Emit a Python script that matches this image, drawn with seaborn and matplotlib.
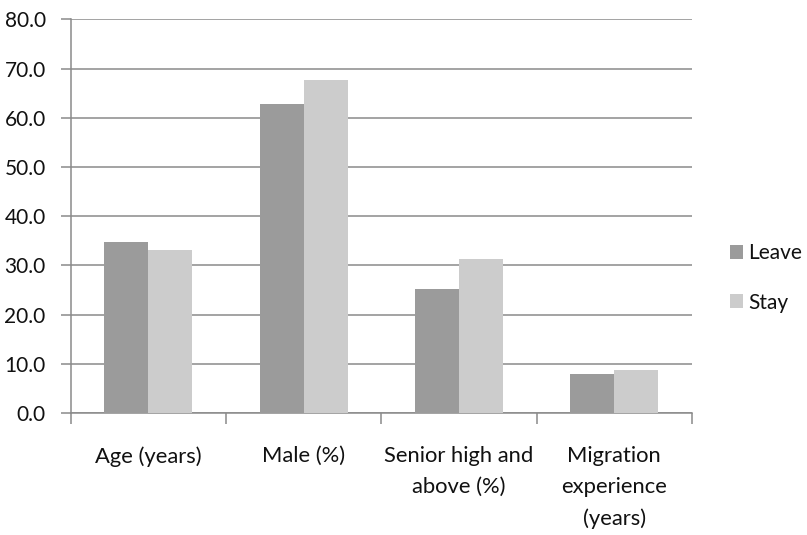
import matplotlib
matplotlib.use("Agg")
import matplotlib.pyplot as plt
from matplotlib.ticker import FixedLocator, FuncFormatter
import seaborn as sns
import pandas as pd

categories = ["Age (years)", "Male (%)", "Senior high and\nabove (%)",
              "Migration\nexperience\n(years)"]
leave = [34.8, 62.8, 25.2, 8.0]
stay = [33.2, 67.7, 31.4, 8.8]
groups = ["Leave", "Stay"]
y_ticks = [0, 10, 20, 30, 40, 50, 60, 70, 80]

df = pd.DataFrame({
    "category": categories * 2,
    "value": leave + stay,
    "group": [groups[0]] * len(categories) + [groups[1]] * len(categories),
})

sns.set_theme(style="white")
plt.rcParams["font.family"] = ["Lato", "DejaVu Sans"]

grid_col = "#8a8a8a"
fig = plt.figure(figsize=(8.07, 5.35), dpi=100)
ax = fig.add_axes([0.0876, 0.228, 0.8575 - 0.0876, 0.9636 - 0.228])

sns.barplot(data=df, x="category", y="value", hue="group", order=categories,
            hue_order=groups, palette=["#9b9b9b", "#cccccc"], width=0.566,
            linewidth=0, saturation=1, ax=ax, zorder=3)

ax.set_xlim(-0.5, len(categories) - 0.5)
ax.set_ylim(0, 80)
ax.set_yticks(y_ticks)
ax.yaxis.set_major_formatter(FuncFormatter(lambda v, p: f"{v:.1f}"))
ax.yaxis.grid(True, color=grid_col, linewidth=1.1, zorder=0)
ax.set_axisbelow(True)
ax.set_xlabel("")
ax.set_ylabel("")

for side in ["top", "right"]:
    ax.spines[side].set_visible(False)
for side in ["left", "bottom"]:
    ax.spines[side].set_color(grid_col)
    ax.spines[side].set_linewidth(1.1)

ax.tick_params(axis="y", which="major", left=True, length=7, width=1.1,
               color=grid_col, pad=11, labelsize=15, labelcolor="#111111")
ax.tick_params(axis="x", which="major", bottom=False, length=0, pad=24,
               labelsize=15.8, labelcolor="#111111")
ax.xaxis.set_minor_locator(FixedLocator([i - 0.5 for i in range(len(categories) + 1)]))
ax.tick_params(axis="x", which="minor", bottom=True, length=8, width=1.1,
               color=grid_col)
for lab in ax.get_xticklabels():
    lab.set_linespacing(1.68)
    lab.set_verticalalignment("top")

leg = ax.legend(loc="center left", bbox_to_anchor=(730 / 807, 1 - 278 / 535),
                bbox_transform=fig.transFigure, frameon=False, fontsize=15,
                handlelength=0.62, handleheight=0.62, handletextpad=0.25,
                labelspacing=1.4, borderpad=0, borderaxespad=0)
for t in leg.get_texts():
    t.set_color("#111111")

fig.savefig("out.png", dpi=100)
